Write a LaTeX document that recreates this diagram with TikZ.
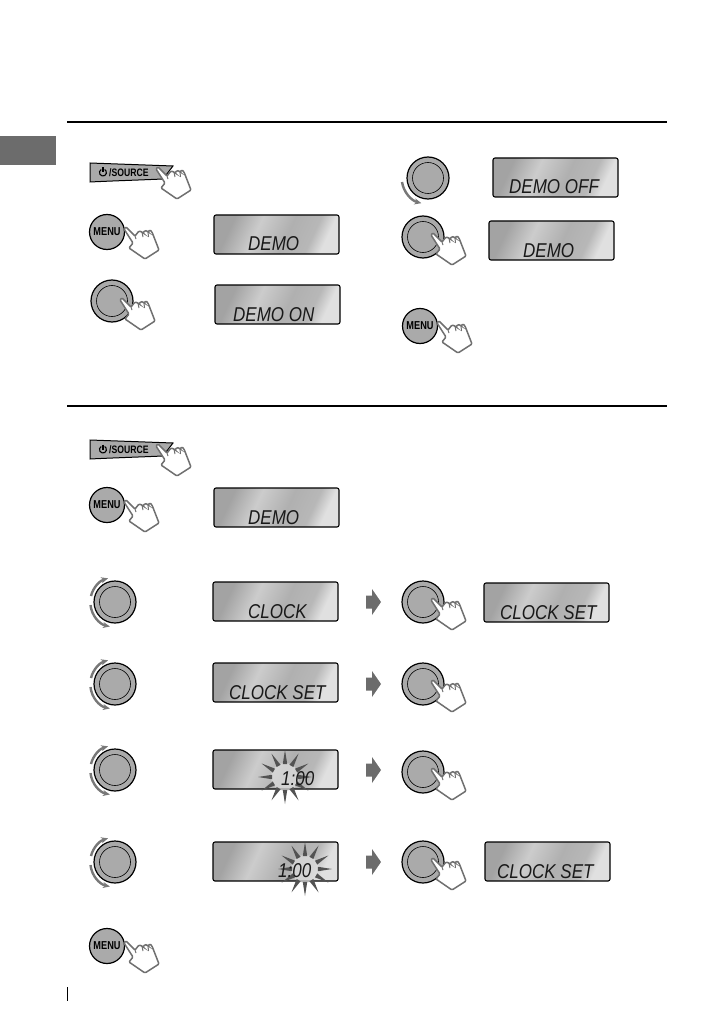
\documentclass[tikz,border=0pt]{standalone}
\usepackage{fontspec}
\setmainfont{Liberation Sans}
\newfontfamily\lcdfont[FakeStretch=0.85]{Liberation Sans}
\newfontfamily\keyfont[FakeStretch=0.8]{Liberation Sans}
\usetikzlibrary{arrows.meta}
\definecolor{mTab}{RGB}{108,108,108}
\definecolor{mKey}{RGB}{170,170,170}
\definecolor{mHand}{RGB}{112,112,112}
\definecolor{mTurn}{RGB}{120,120,120}
\pgfdeclarehorizontalshading{lcdshade}{100bp}{color(0bp)=(black!36);color(27bp)=(black!36);color(40bp)=(black!20);color(55bp)=(black!31);color(67bp)=(black!28);color(74bp)=(black!12);color(100bp)=(black!12)}
\tikzset{
    lcdbox/.style={draw=black, line width=1.1pt, rounded corners=2pt, shading=lcdshade, shading angle=-25},
    lcdtext/.style={anchor=base west, inner sep=0pt, text=black!90, font=\lcdfont\itshape\fontsize{20}{21}\selectfont},
    keytext/.style={inner sep=0pt, font=\keyfont\bfseries\fontsize{11.5}{12}\selectfont},
    turn/.style={draw=mTurn, line width=2.4pt, -{Stealth[length=7pt,width=6pt]}},
    pics/hand/.style={code={
        \draw[mHand, line width=1.5pt, fill=white, rounded corners=1pt]
            (-1,1) -- (1,-1) -- (10,8) -- (14,3) -- (17,4) -- (18,5) -- (20,2.5) -- (22,3) -- (23,4)
            -- (25,2) -- (27,4) -- (34,22) -- (20,31) -- (4,20) -- (8,15) -- cycle;
        \draw[mHand, line width=1pt] (10,8) -- (11,11) (17,4) -- (18,9) (23,4) -- (23.5,9);
    }},
    pics/knob/.style={code={
        \draw[black, line width=1.2pt, fill=mKey] (0,0) circle (21pt);
        \draw[black, line width=.6pt] (0,0) circle (15.5pt);
    }},
    pics/burst/.style={code={
        \fill[black!12, opacity=.7] (0,0) circle (14pt);
        \foreach \a in {0,30,...,330}
            \fill[black!68] (\a-10:13) -- (\a:27) -- (\a+10:13) -- cycle;
    }}
}

\begin{document}
\begin{tikzpicture}[x=1pt,y=-1pt]
    \useasboundingbox (0,0) rectangle (724,1032);

    % Section rules and the page marks
    \draw[line width=2pt] (67,122) -- (667,122);
    \draw[line width=2pt] (67,406) -- (667,406);
    \fill[mTab] (0,136) rectangle (56,165);
    \draw[line width=.7pt] (67,987) -- (67,1001);

    % Source buttons
    \foreach \y/\n in {0/srcone,277/srctwo} {
        \draw[black, line width=1pt, fill=mKey] (90,163+\y) -- (173,166+\y) -- (163,179+\y)
            .. controls (140,180+\y) and (110,181+\y) .. (90,182+\y) -- cycle;
        \draw[line width=1.1pt] (101.2,169.5+\y) arc[start angle=120,end angle=420,radius=3.5pt];
        \draw[line width=1.1pt] (103,167.5+\y) -- (103,172.5+\y);
        \node[keytext, font=\keyfont\bfseries\fontsize{10.8}{11}\selectfont, anchor=west] (\n) at (109,172.5+\y) {/SOURCE};
    }

    % Menu buttons
    \foreach \x/\y/\n in {107/232/menuone,420/326/menutwo,107/505/menuthree,107/946/menufour} {
        \draw[black, line width=1.2pt, fill=mKey] (\x,\y) circle (17.5pt);
        \node[keytext] (\n) at (\x,\y) {MENU};
    }

    % Knobs
    \foreach \x/\y in {112/301,428/178,423/237,115/602,115/684,115/770,115/862,423/602,423/684,423/772,423/862}
        \pic at (\x,\y) {knob};

    % Turning arrows
    \draw[turn] (402,182) arc[start angle=189,end angle=256,radius=26pt];
    \foreach \y in {602,684,770,862} {
        \draw[turn] (91,\y-6) arc[start angle=166,end angle=106,radius=24.6pt];
        \draw[turn] (90.5,\y+3) arc[start angle=186,end angle=258,radius=24.6pt];
    }

    % Fat arrows between the steps
    \foreach \y in {602,684,770,862}
        \fill[mTab] (366,\y-6.5) -- (372,\y-6.5) -- (372,\y-13) -- (381,\y) -- (372,\y+13) -- (372,\y+6.5) -- (366,\y+6.5) -- cycle;

    % Displays
    \foreach \x/\y/\tx/\lbl/\n in {
        214/215/248/DEMO/lcda,
        215/285/233/DEMO ON/lcdb,
        493/158/509/DEMO OFF/lcdc,
        489/221/523/DEMO/lcdd,
        214/488/248/DEMO/lcde,
        213/582/248/CLOCK/lcdf,
        484/583/500/CLOCK SET/lcdg,
        213/663/229/CLOCK SET/lcdh,
        485/842/497/CLOCK SET/lcdk} {
        \path[lcdbox] (\x,\y) rectangle (\x+125,\y+39);
        \node[lcdtext] (\n) at (\tx,\y+36) {\lbl};
    }

    % Flashing digits
    \path[lcdbox] (213,750) rectangle (338,789);
    \pic at (285,777) {burst};
    \node[lcdtext] (lcdi) at (281,785) {1:00};
    \path[lcdbox] (213,842) rectangle (338,881);
    \pic at (305,869) {burst};
    \node[lcdtext] (lcdj) at (278,877) {1:00};

    % Hands
    \foreach \x/\y in {157/168,125/228,121/299,432/234,438/322,157/445,125/501,125/942,432/599,432/681,432/769,432/859}
        \pic at (\x,\y) {hand};
\end{tikzpicture}
\end{document}
